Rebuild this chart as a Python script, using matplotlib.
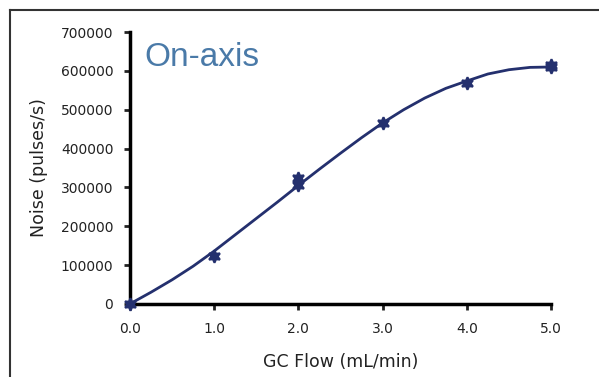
import numpy as np
import matplotlib
matplotlib.use('Agg')
import matplotlib.pyplot as plt
from matplotlib.lines import Line2D

# measured points (GC flow, noise)
flow_pts = [0.0, 1.0, 2.0, 2.0, 3.0, 4.0, 5.0, 5.0]
noise_pts = [0, 124000, 306000, 325000, 466000, 570000, 609000, 615000]

# fitted curve
flow_fit = [0.0, 0.25, 0.5, 0.75, 1.0, 1.25, 1.5, 1.75, 2.0, 2.25, 2.5,
            2.75, 3.0, 3.25, 3.5, 3.75, 4.0, 4.25, 4.5, 4.75, 5.0]
noise_fit = [0, 30000, 62000, 97000, 136000, 178000, 220000, 262000, 305000,
             347000, 388000, 428000, 466000, 500000, 530000, 555000, 574000,
             592000, 603000, 609000, 610000]

xticks = [0.0, 1.0, 2.0, 3.0, 4.0, 5.0]
yticks = [0, 100000, 200000, 300000, 400000, 500000, 600000, 700000]

navy = '#24306e'

plt.rcParams['font.family'] = ['DejaVu Sans']

fig = plt.figure(figsize=(5.99, 3.77), dpi=100)
fig.set_facecolor('white')
ax = fig.add_axes([0.217, 0.194, 0.703, 0.721])

ax.plot(flow_fit, noise_fit, color=navy, linewidth=2, clip_on=False, zorder=3)
ax.plot(flow_pts, noise_pts, linestyle='none', marker=(6, 1, 0), markersize=9,
        color=navy, markeredgewidth=1.5, clip_on=False, zorder=4)

ax.set_xlim(0, 5)
ax.set_ylim(0, 700000)
ax.set_xticks(xticks)
ax.set_xticklabels(['%.1f' % v for v in xticks])
ax.set_yticks(yticks)
ax.set_yticklabels([str(v) for v in yticks])

for side in ['top', 'right']:
    ax.spines[side].set_visible(False)
for side in ['left', 'bottom']:
    ax.spines[side].set_linewidth(2.5)
    ax.spines[side].set_color('black')

ax.tick_params(direction='out', length=4, width=2, labelsize=10, colors='#222222')
ax.tick_params(axis='x', pad=9)
ax.tick_params(axis='y', pad=8)

ax.set_xlabel('GC Flow (mL/min)', fontsize=12.5, labelpad=12, color='#222222')
ax.set_ylabel('Noise (pulses/s)', fontsize=12.5, labelpad=9, color='#222222')

ax.text(0.035, 0.965, 'On-axis', transform=ax.transAxes, fontsize=24,
        color='#4a7aa8', va='top', ha='left', family='Liberation Sans')

# frame lines around the panel
fig.add_artist(Line2D([10 / 599, 1.0], [1 - 10 / 377, 1 - 10 / 377],
                      transform=fig.transFigure, color='#333333', linewidth=1.5))
fig.add_artist(Line2D([10 / 599, 10 / 599], [0.0, 1 - 10 / 377],
                      transform=fig.transFigure, color='#333333', linewidth=1.5))

fig.savefig('out.png', dpi=100, facecolor='white')
